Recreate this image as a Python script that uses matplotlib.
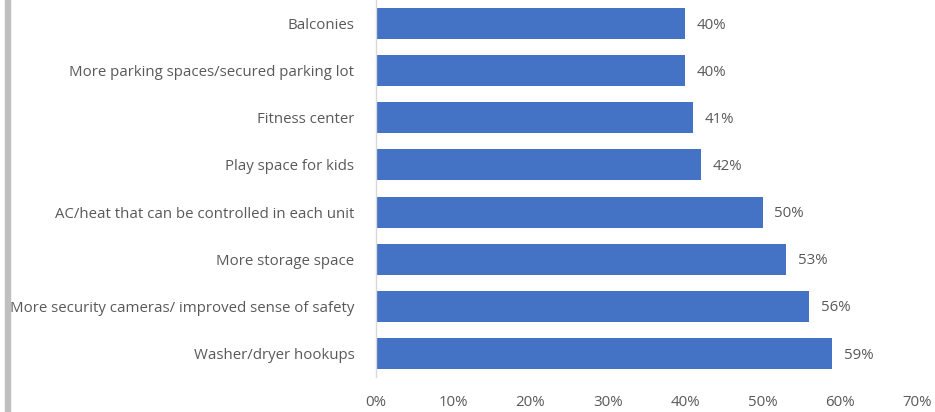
import matplotlib

matplotlib.use("Agg")
import matplotlib.pyplot as plt
from matplotlib.patches import Rectangle

categories = [
    "Balconies",
    "More parking spaces/secured parking lot",
    "Fitness center",
    "Play space for kids",
    "AC/heat that can be controlled in each unit",
    "More storage space",
    "More security cameras/ improved sense of safety",
    "Washer/dryer hookups",
]
values = [40, 40, 41, 42, 50, 53, 56, 59]
ticks = [0, 10, 20, 30, 40, 50, 60, 70]
tick_labels = [f"{t}%" for t in ticks]

bar_color = "#4472C4"
text_color = "#595959"

plt.rcParams["font.family"] = ["Open Sans", "DejaVu Sans"]

fig = plt.figure(figsize=(9.35, 4.12), dpi=100)
ax = fig.add_axes([0.402, 0.085, 0.579, 0.915])

y = list(range(len(categories)))
ax.barh(y, values, height=0.66, color=bar_color)
for yi, v in zip(y, values):
    ax.annotate(f"{v}%", (v, yi), xytext=(8.5, -1.2), textcoords="offset points",
                va="center", ha="left", fontsize=10.8, color=text_color)

ax.set_xlim(0, 70)
ax.set_ylim(len(categories) - 0.5, -0.5)
ax.set_xticks(ticks)
ax.set_xticklabels(tick_labels)
ax.set_yticks(y)
ax.set_yticklabels(categories)
ax.tick_params(axis="both", length=0, labelsize=10.8, colors=text_color)
ax.tick_params(axis="y", pad=15.5)
ax.tick_params(axis="x", pad=13)

for side in ["top", "right", "bottom"]:
    ax.spines[side].set_visible(False)
ax.spines["left"].set_color("#D9D9D9")
ax.spines["left"].set_linewidth(1)

# grey strip on the left edge
fig.patches.append(Rectangle((5 / 935, 0), 5 / 935, 1, transform=fig.transFigure,
                             color="#BFBFBF", zorder=0))

fig.savefig("out.png", dpi=100)
